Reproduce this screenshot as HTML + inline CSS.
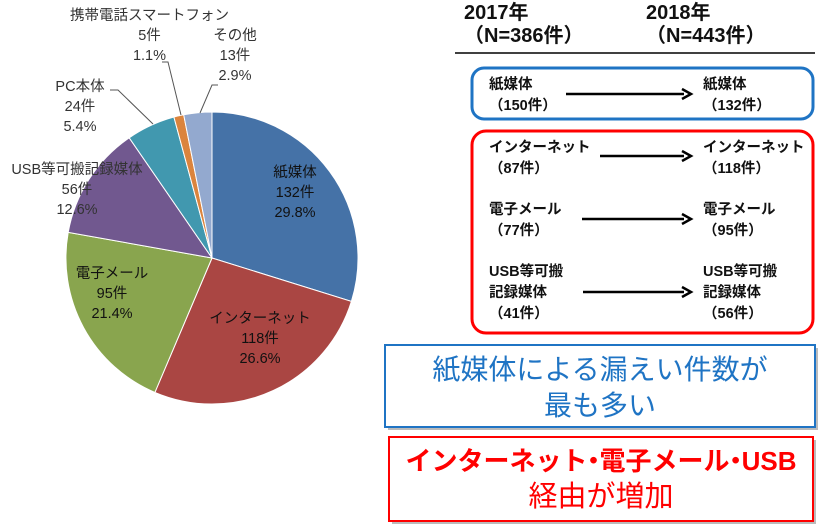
<!DOCTYPE html><html><head><meta charset="utf-8"><style>
body{margin:0;width:827px;height:525px;background:#fff;overflow:hidden;font-family:"Liberation Sans","Noto Sans CJK JP",sans-serif;position:relative}
.a{position:absolute;white-space:nowrap}
.b{font-weight:bold;font-size:14.5px;line-height:21px;color:#111}
.d{display:inline-block;margin:0 -7px}
</style></head><body>
<svg class="a" style="left:0;top:0" width="827" height="525">
<g stroke="#fff" stroke-width="1">
<path d="M212,258 L212,112 A146,146 0 0 1 351.4,301.4Z" fill="#4572A7"/>
<path d="M212,258 L351.4,301.4 A146,146 0 0 1 154.9,392.4Z" fill="#AA4643"/>
<path d="M212,258 L154.9,392.4 A146,146 0 0 1 68.2,232.4Z" fill="#89A54E"/>
<path d="M212,258 L68.2,232.4 A146,146 0 0 1 129.2,137.8Z" fill="#71588F"/>
<path d="M212,258 L129.2,137.8 A146,146 0 0 1 173.9,117Z" fill="#4198AF"/>
<path d="M212,258 L173.9,117 A146,146 0 0 1 183.7,114.8Z" fill="#DB843D"/>
<path d="M212,258 L183.7,114.8 A146,146 0 0 1 212,112Z" fill="#93A9CF"/>
</g>
<g stroke="#555" fill="none" stroke-width="1">
<polyline points="110,90 118,90 153,124"/>
<polyline points="162,62 168,62 181,115"/>
<polyline points="218,85 212,85 200,113"/>
</g>
<line x1="455" y1="53" x2="815" y2="53" stroke="#000" stroke-width="1.5"/>
<rect x="472" y="68" width="341" height="51" rx="12" fill="none" stroke="#1F74C4" stroke-width="3"/>
<rect x="472" y="131" width="341" height="202" rx="14" fill="none" stroke="#F00" stroke-width="3"/>
<g stroke="#000" stroke-width="2.5" fill="#000">
<line x1="566" y1="94" x2="684" y2="94"/><path d="M682,89 L691,94 L682,99" fill="none"/>
<line x1="600" y1="156" x2="684" y2="156"/><path d="M682,151 L691,156 L682,161" fill="none"/>
<line x1="582" y1="219" x2="684" y2="219"/><path d="M682,214 L691,219 L682,224" fill="none"/>
<line x1="583" y1="292" x2="684" y2="292"/><path d="M682,287 L691,292 L682,297" fill="none"/>
</g>
<rect x="388" y="348" width="430" height="82" fill="#bbb"/>
<rect x="385" y="345" width="430" height="82" fill="#fff" stroke="#1F74C4" stroke-width="2"/>
<rect x="392" y="440" width="424" height="84" fill="#bbb"/>
<rect x="389" y="437" width="424" height="84" fill="#fff" stroke="#F00" stroke-width="2"/>
</svg>
<div class="a" style="left:57px;top:6px;font-size:14.5px;color:#333;text-align:center;line-height:20px;width:185px">携帯電話スマートフォン<br>5件<br>1.1%</div>
<div class="a" style="left:205px;top:26px;font-size:14.5px;color:#333;text-align:center;line-height:20px;width:60px">その他<br>13件<br>2.9%</div>
<div class="a" style="left:50px;top:77px;font-size:14.5px;color:#333;text-align:center;line-height:20px;width:60px">PC本体<br>24件<br>5.4%</div>
<div class="a" style="left:2px;top:160px;font-size:14.5px;color:#333;text-align:center;line-height:20px;width:150px">USB等可搬記録媒体<br>56件<br>12.6%</div>
<div class="a" style="left:255px;top:163px;font-size:14.5px;color:#111;text-align:center;line-height:20px;width:80px">紙媒体<br>132件<br>29.8%</div>
<div class="a" style="left:205px;top:309px;font-size:14.5px;color:#111;text-align:center;line-height:20px;width:110px">インターネット<br>118件<br>26.6%</div>
<div class="a" style="left:72px;top:264px;font-size:14.5px;color:#111;text-align:center;line-height:20px;width:80px">電子メール<br>95件<br>21.4%</div>
<div class="a" style="left:464px;top:2px;font-weight:bold;font-size:20px;line-height:23px;color:#111">2017年<br>（N=386件）</div>
<div class="a" style="left:646px;top:2px;font-weight:bold;font-size:20px;line-height:23px;color:#111">2018年<br>（N=443件）</div>
<div class="a b" style="left:489px;top:75px">紙媒体<br>（150件）</div>
<div class="a b" style="left:703px;top:75px">紙媒体<br>（132件）</div>
<div class="a b" style="left:489px;top:138px">インターネット<br>（87件）</div>
<div class="a b" style="left:703px;top:138px">インターネット<br>（118件）</div>
<div class="a b" style="left:489px;top:200px">電子メール<br>（77件）</div>
<div class="a b" style="left:703px;top:200px">電子メール<br>（95件）</div>
<div class="a b" style="left:489px;top:262px">USB等可搬<br>記録媒体<br>（41件）</div>
<div class="a b" style="left:703px;top:262px">USB等可搬<br>記録媒体<br>（56件）</div>
<div class="a" style="left:385px;top:352px;width:430px;text-align:center;font-size:28px;line-height:36px;color:#1F74C4">紙媒体による漏えい件数が<br>最も多い</div>
<div class="a" style="left:389px;top:443px;width:424px;text-align:center;font-size:26px;line-height:36px;color:#F00;font-weight:bold">インターネット<span class="d">・</span>電子メール<span class="d">・</span>USB<br><span style="font-weight:normal;font-size:29px">経由が増加</span></div>
</body></html>
